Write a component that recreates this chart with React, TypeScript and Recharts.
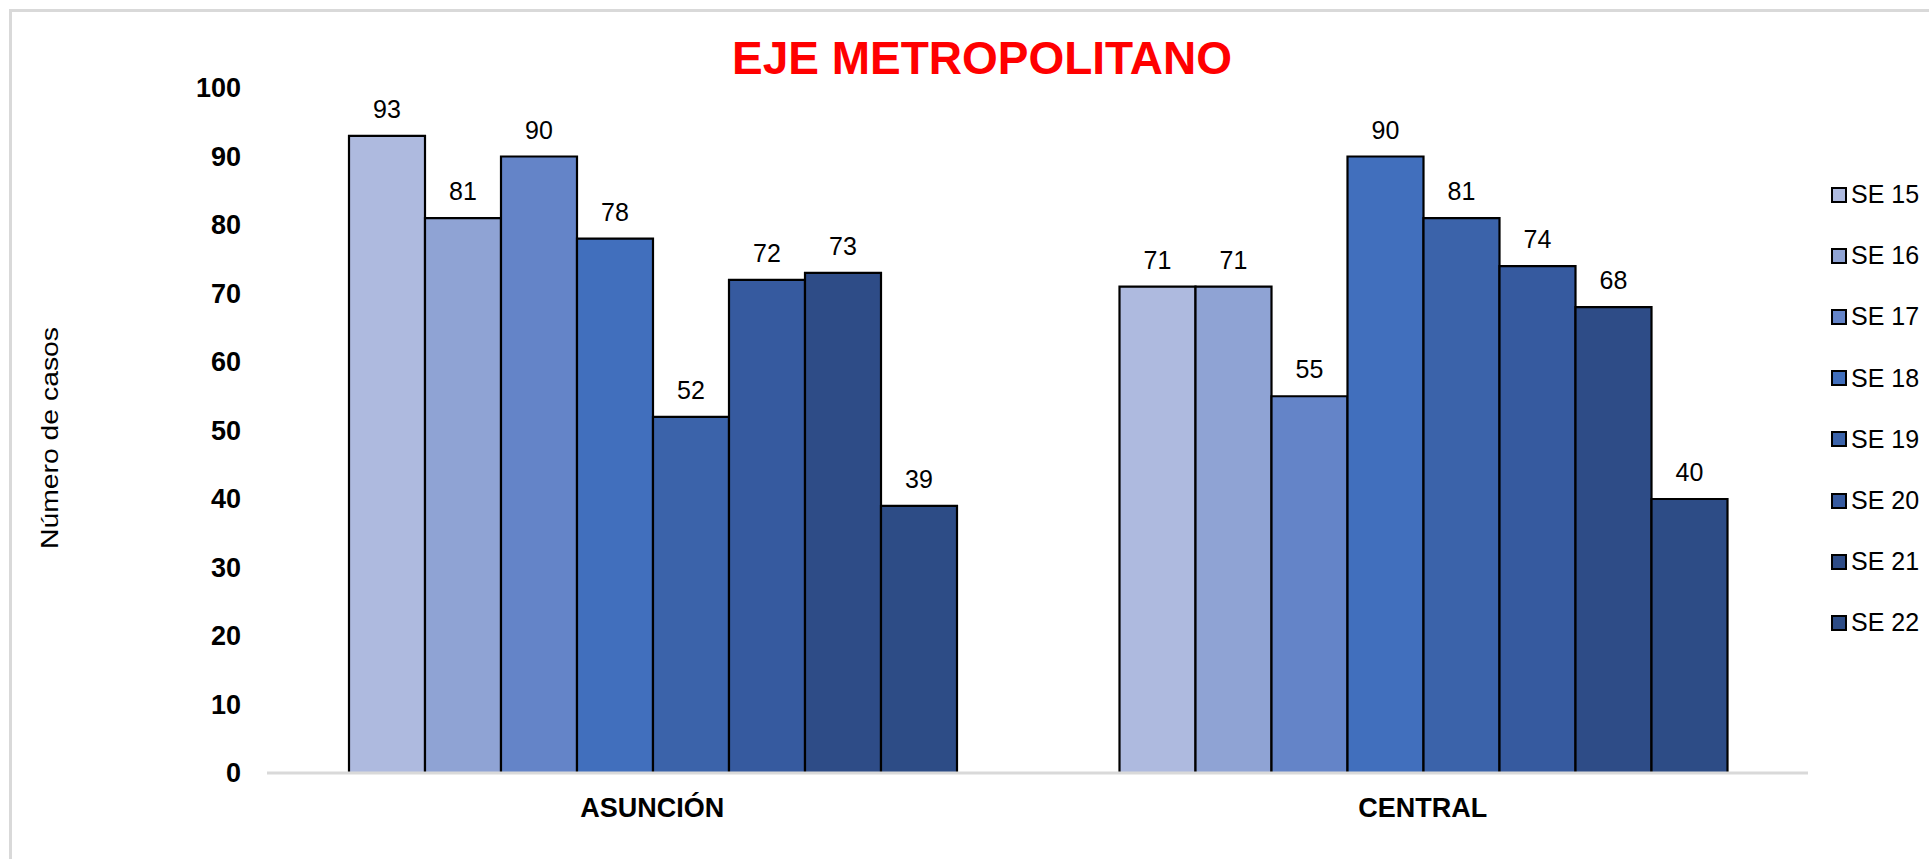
import { BarChart, Bar, XAxis, YAxis, Legend, LabelList, Label } from 'recharts'

const regions = ['ASUNCIÓN', 'CENTRAL']
const weeks = ['SE 15', 'SE 16', 'SE 17', 'SE 18', 'SE 19', 'SE 20', 'SE 21', 'SE 22']
const asuncion = [93, 81, 90, 78, 52, 72, 73, 39]
const central = [71, 71, 55, 90, 81, 74, 68, 40]
const yTicks = [0, 10, 20, 30, 40, 50, 60, 70, 80, 90, 100]

const colors = ['#aebadf', '#8fa3d4', '#6484c8', '#416fbd', '#3b63aa', '#365a9f', '#2e4c87', '#2d4c86']

const font = "'Liberation Sans', Arial, sans-serif"

const rows = [asuncion, central].map((vals, i) => {
  const row: Record<string, string | number> = { name: regions[i] }
  weeks.forEach((w, j) => { row[w] = vals[j] })
  return row
})

function YTick({ x, y, payload }: any) {
  return (
    <text x={x} y={y} textAnchor="end" dominantBaseline="central" fontFamily={font} fontSize={27} fontWeight="bold" fill="#000">
      {payload.value}
    </text>
  )
}

function XTick({ x, y, payload }: any) {
  return (
    <text x={x} y={y + 35} textAnchor="middle" dominantBaseline="central" fontFamily={font} fontSize={27} fontWeight="bold" fill="#000">
      {payload.value}
    </text>
  )
}

function ValueLabel({ x, y, width, value }: any) {
  return (
    <text x={x + width / 2} y={y - 27} textAnchor="middle" dominantBaseline="central" fontFamily={font} fontSize={25} fill="#000">
      {value}
    </text>
  )
}

function AxisTitle() {
  return (
    <text
      x={49}
      y={438}
      transform="rotate(-90 49 438)"
      textAnchor="middle"
      dominantBaseline="central"
      fontFamily={font}
      fontSize={24}
      textLength={222}
      lengthAdjust="spacingAndGlyphs"
      fill="#000"
    >
      Número de casos
    </text>
  )
}

function LegendBox({ payload }: any) {
  return (
    <div style={{ fontFamily: font, fontSize: 25, color: '#000' }}>
      {(payload ?? []).map((p: any) => (
        <div key={p.value} style={{ height: 61.2, display: 'flex', alignItems: 'center' }}>
          <span style={{ width: 12, height: 12, background: p.color, border: '2px solid #000', marginRight: 4, display: 'inline-block' }} />
          <span>{p.value}</span>
        </div>
      ))}
    </div>
  )
}

export default function App() {
  return (
    <div style={{ position: 'absolute', left: 0, top: 0, width: 1929, height: 859, background: '#fff', overflow: 'hidden' }}>
      <div style={{ position: 'absolute', left: 9, top: 9, width: 1940, height: 880, border: '3px solid #d9d9d9', boxSizing: 'border-box' }} />
      <div style={{ position: 'absolute', left: 482, top: 58, width: 1000, textAlign: 'center', transform: 'translateY(-50%)', fontFamily: font, fontSize: 46, fontWeight: 'bold', color: '#ff0000', lineHeight: 1 }}>
        EJE METROPOLITANO
      </div>
      <BarChart
        width={1929}
        height={859}
        data={rows}
        margin={{ top: 88, right: 121, bottom: 0, left: 0 }}
        barCategoryGap={82}
        barGap={0}
        style={{ position: 'absolute', left: 0, top: 0 }}
      >
        <XAxis
          dataKey="name"
          height={86}
          tick={<XTick />}
          tickLine={false}
          tickSize={0}
          tickMargin={0}
          axisLine={{ stroke: '#d9d9d9', strokeWidth: 3 }}
        />
        <YAxis
          width={267}
          domain={[0, 100]}
          ticks={yTicks}
          tick={<YTick />}
          tickLine={false}
          tickSize={0}
          tickMargin={26}
          axisLine={false}
        >
          <Label content={<AxisTitle />} />
        </YAxis>
        <Legend
          layout="vertical"
          align="center"
          verticalAlign="middle"
          content={<LegendBox />}
          wrapperStyle={{ left: 1831, top: 164, width: 98 }}
        />
        {weeks.map((w, i) => (
          <Bar key={w} dataKey={w} fill={colors[i]} stroke="#000" strokeWidth={2.2} isAnimationActive={false}>
            <LabelList dataKey={w} content={<ValueLabel />} />
          </Bar>
        ))}
      </BarChart>
    </div>
  )
}
